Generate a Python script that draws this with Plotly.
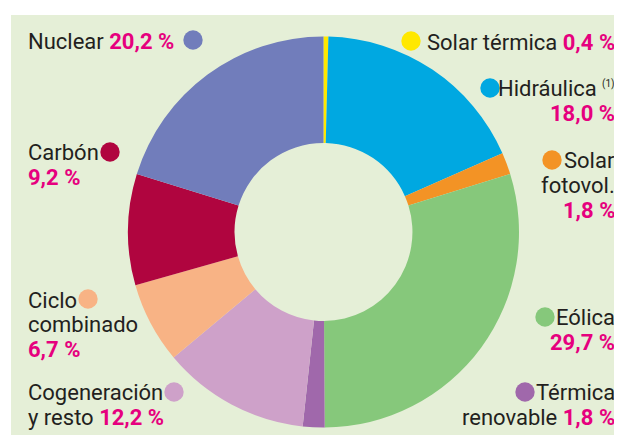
import plotly.graph_objects as go

# generation mix, clockwise from 12 o'clock
sources = ["Solar térmica", "Hidráulica", "Solar fotovol.", "Eólica", "Térmica renovable",
           "Cogeneración y resto", "Ciclo combinado", "Carbón", "Nuclear"]
shares = [0.4, 18.0, 1.8, 29.7, 1.8, 12.2, 6.7, 9.2, 20.2]
colors = ["#ffe800", "#00a8e1", "#f39325", "#86c87b", "#a068ab",
          "#cea1c9", "#f8b385", "#b0053f", "#717dbb"]

# page has an 8px body margin, so the figure is a bit smaller than the window
OFF = 8
W, H = 622 - OFF, 435 - OFF
PINK = "#e6007e"
INK = "#231f20"
FONT = "Roboto, sans-serif"
FS = 22


def pct(v):
    return f"<span style='color:{PINK}'><b>{v:.1f} %</b></span>".replace(".", ",")


def px(x):
    return (x - OFF) / W


def py(y):
    return 1 - (y - OFF) / H


# donut centre / outer radius in window pixels
cx0, cy0, R = 323.5, 232, 195.5

fig = go.Figure()

fig.add_trace(go.Pie(
    labels=sources, values=shares, sort=False, direction="clockwise", rotation=0,
    hole=0.455, marker=dict(colors=colors, line=dict(width=0)),
    textinfo="none", hoverinfo="label+percent", showlegend=False,
    domain=dict(x=[px(cx0 - R), px(cx0 + R)], y=[py(cy0 + R), py(cy0 - R)]),
))

# green panel
shapes = [dict(type="rect", xref="paper", yref="paper", x0=px(11), x1=1, y0=0, y1=py(15),
               fillcolor="#e5efd7", line=dict(width=0), layer="below")]

# label lines: (text, x, baseline y, anchor)
s = dict(zip(sources, shares))
lines = [
    ("Nuclear " + pct(s["Nuclear"]), 27, 49, "left"),
    ("Carbón", 27, 160, "left"),
    (pct(s["Carbón"]), 27, 185, "left"),
    ("Ciclo", 27, 308, "left"),
    ("combinado", 27, 332, "left"),
    (pct(s["Ciclo combinado"]), 27, 357, "left"),
    ("Cogeneración", 27, 400, "left"),
    ("y resto " + pct(s["Cogeneración y resto"]), 27, 425, "left"),
    ("Solar térmica " + pct(s["Solar térmica"]), 616, 50, "right"),
    ("Hidráulica", 598, 96, "right"),
    (pct(s["Hidráulica"]), 616, 121, "right"),
    ("Solar", 616, 168, "right"),
    ("fotovol.", 616, 193, "right"),
    (pct(s["Solar fotovol."]), 616, 218, "right"),
    ("Eólica", 616, 325, "right"),
    (pct(s["Eólica"]), 616, 350, "right"),
    ("Térmica", 616, 400, "right"),
    ("renovable " + pct(s["Térmica renovable"]), 616, 425, "right"),
]

annotations = []
for text, x, base, anchor in lines:
    annotations.append(dict(
        text=text, x=px(x), y=py(base - 0.35 * FS), xref="paper", yref="paper",
        xanchor=anchor, yanchor="middle", showarrow=False, borderpad=0,
        font=dict(family=FONT, size=FS, color=INK),
    ))
annotations.append(dict(
    text="(1)", x=px(616), y=py(84), xref="paper", yref="paper", xanchor="right",
    yanchor="middle", showarrow=False, borderpad=0,
    font=dict(family=FONT, size=10, color=INK),
))

# colour dots next to labels
dots = {"Nuclear": (193, 40), "Carbón": (110, 152), "Ciclo combinado": (88, 299),
        "Cogeneración y resto": (174, 392), "Solar térmica": (411, 41), "Hidráulica": (490, 88),
        "Solar fotovol.": (552, 160), "Eólica": (545, 317), "Térmica renovable": (525, 392)}
r = 9.7
for name, (cx, cy) in dots.items():
    shapes.append(dict(type="circle", xref="paper", yref="paper",
                       x0=px(cx - r), x1=px(cx + r), y0=py(cy + r), y1=py(cy - r),
                       fillcolor=colors[sources.index(name)], line=dict(width=0)))

fig.update_layout(
    width=W, height=H, margin=dict(l=0, r=0, t=0, b=0),
    paper_bgcolor="white", plot_bgcolor="white",
    shapes=shapes, annotations=annotations,
)

fig.write_html("out.html")
